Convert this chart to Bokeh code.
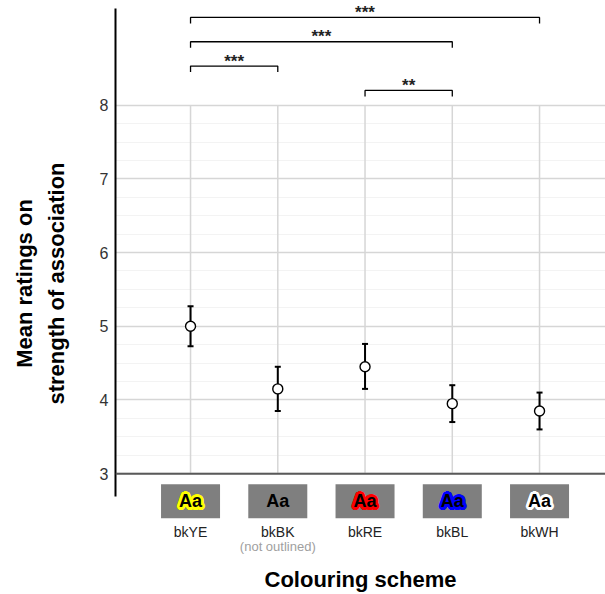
import numpy as np
from bokeh.plotting import figure
from bokeh.models import ColumnDataSource, FixedTicker, Span
from bokeh.core.properties import value
from bokeh.embed import file_html
from bokeh.resources import INLINE

# ---- data ----
categories = ["bkYE", "bkBK", "bkRE", "bkBL", "bkWH"]
means = [5.00, 4.15, 4.45, 3.95, 3.85]
lower = [4.73, 3.85, 4.15, 3.70, 3.60]
upper = [5.27, 4.45, 4.76, 4.20, 4.10]
outline_colors = ["#ffff00", None, "#ff0000", "#0000ff", "#ffffff"]
notes = ["", "(not outlined)", "", "", ""]
y_ticks = [3, 4, 5, 6, 7, 8]
comp_from = ["bkYE", "bkYE", "bkYE", "bkRE"]
comp_to = ["bkWH", "bkBL", "bkBK", "bkBL"]
comp_sig = ["***", "***", "***", "**"]

# ---- layout constants ----
bracket_levels = [9.19, 8.86, 8.53, 8.20]
bracket_drop = 0.081
box_y = 2.627
label_y = 2.214
note_y = 2.011
FONT = "Liberation Sans"

xs = list(range(1, len(categories) + 1))
pos = {c: i for c, i in zip(categories, xs)}

p = figure(width=605, height=594, x_range=(0.14, 5.756), y_range=(1.74, 9.42),
           output_backend="svg", toolbar_location=None,
           min_border_left=115, min_border_right=0, min_border_top=0, min_border_bottom=0)
p.outline_line_color = None
p.background_fill_color = "white"
p.border_fill_color = "white"

# y axis
ya = p.yaxis[0]
ya.ticker = FixedTicker(ticks=y_ticks)
ya.bounds = (2.69, 9.31)
ya.axis_line_color = "black"
ya.axis_line_width = 2
ya.major_tick_line_color = None
ya.minor_tick_line_color = None
ya.major_tick_out = 0
ya.minor_tick_out = 0
ya.major_label_standoff = 7
ya.major_label_text_font = FONT
ya.major_label_text_font_size = "16px"
ya.major_label_text_color = "#333333"
ya.axis_label = "Mean ratings on\nstrength of association"
ya.axis_label_text_font = FONT
ya.axis_label_text_font_style = "bold"
ya.axis_label_text_font_size = "22px"
ya.axis_label_text_color = "black"
ya.axis_label_text_line_height = 1.27
ya.axis_label_standoff = 28

# x axis (title only)
xa = p.xaxis[0]
xa.ticker = FixedTicker(ticks=[])
xa.axis_line_color = None
xa.major_tick_line_color = None
xa.minor_tick_line_color = None
xa.major_tick_out = 0
xa.minor_tick_out = 0
xa.major_label_text_font_size = "0px"
xa.axis_label = "Colouring scheme"
xa.axis_label_text_font = FONT
xa.axis_label_text_font_style = "bold"
xa.axis_label_text_font_size = "22px"
xa.axis_label_text_color = "black"
xa.axis_label_standoff = 0

# grids
p.xgrid.visible = False
minor = [t + f for t in y_ticks[:-1] for f in (0.25, 0.5, 0.75)]
p.ygrid.ticker = FixedTicker(ticks=y_ticks, minor_ticks=minor)
p.ygrid.grid_line_color = "#d6d6d6"
p.ygrid.grid_line_width = 1.5
p.ygrid.minor_grid_line_color = "#f3f3f3"
p.ygrid.minor_grid_line_width = 1

p.segment(x0=xs, y0=[y_ticks[0]] * len(xs), x1=xs, y1=[y_ticks[-1]] * len(xs),
          line_color="#d6d6d6", line_width=1.5)

p.add_layout(Span(location=y_ticks[0], dimension="width", line_color="#595959", line_width=2))

# error bars and means
src = ColumnDataSource(dict(x=xs, m=means, lo=lower, hi=upper, cat=categories, note=notes))
p.segment("x", "lo", "x", "hi", source=src, line_color="black", line_width=2)
p.scatter("x", "lo", source=src, marker="dash", size=6, line_color="black", line_width=2)
p.scatter("x", "hi", source=src, marker="dash", size=6, line_color="black", line_width=2)
p.scatter("x", "m", source=src, marker="circle", size=10, fill_color="white",
          line_color="black", line_width=1.4)

# significance brackets
bx, by, tx, ty = [], [], [], []
for a, b, lvl in zip(comp_from, comp_to, bracket_levels):
    x1, x2 = pos[a], pos[b]
    bx.append([x1, x1, x2, x2])
    by.append([lvl - bracket_drop, lvl, lvl, lvl - bracket_drop])
    tx.append((x1 + x2) / 2)
    ty.append(lvl)
p.multi_line(bx, by, line_color="black", line_width=1.3)
p.text(tx, ty, text=comp_sig, text_align="center", text_baseline="middle", y_offset=-5,
       text_font=value(FONT), text_font_style="bold", text_font_size="17px", text_color="#222222")

# colour swatches
p.rect(xs, [box_y] * len(xs), width=59, height=34, width_units="screen", height_units="screen",
       fill_color="#7f7f7f", line_color=None)
hx, hy, hc, ho_x, ho_y = [], [], [], [], []
for x, c in zip(xs, outline_colors):
    if c is None:
        continue
    for r in (1.5, 2.8):
        for ang in np.linspace(0, 2 * np.pi, 16, endpoint=False):
            hx.append(x)
            hy.append(box_y)
            hc.append(c)
            ho_x.append(r * np.cos(ang))
            ho_y.append(r * np.sin(ang))
p.text(x=hx, y=hy, text=["Aa"] * len(hx), x_offset=ho_x, y_offset=ho_y, text_color=hc,
       text_align="center", text_baseline="middle", text_font=value(FONT),
       text_font_style="bold", text_font_size="18px")
p.text(x=xs, y=[box_y] * len(xs), text=["Aa"] * len(xs), text_color="black",
       text_align="center", text_baseline="middle", text_font=value(FONT),
       text_font_style="bold", text_font_size="18px")

# category labels
p.text("x", value(label_y), text="cat", source=src, text_align="center", text_baseline="middle",
       text_font=value(FONT), text_font_size="14px", text_color="#222222")
p.text("x", value(note_y), text="note", source=src, text_align="center", text_baseline="middle",
       text_font=value(FONT), text_font_size="13px", text_color="#a0a0a0")

open("out.html", "w").write(file_html(p, INLINE))
